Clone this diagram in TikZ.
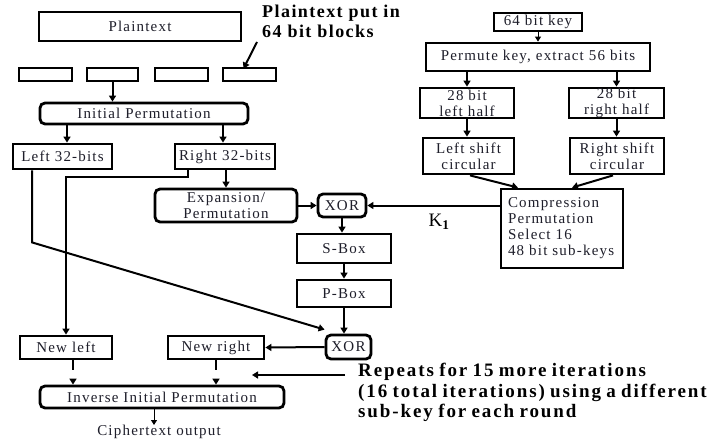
\documentclass[tikz,border=0pt]{standalone}
\usepackage{fontspec}
\setmainfont{Liberation Serif}
\newfontfamily\boxfont[LetterSpace=8,WordSpace=1.4]{Liberation Serif}
\newfontfamily\annfont[LetterSpace=8]{Liberation Serif}
\newfontfamily\repfont[LetterSpace=10,WordSpace=0.8]{Liberation Serif}
\usetikzlibrary{arrows.meta}
\definecolor{txt}{HTML}{1E1E2A}
\tikzset{
  box/.style={draw, line width=2.8pt, inner sep=0pt, text=txt, align=center,
    font=\boxfont\fontsize{15}{16}\selectfont},
  rbox/.style={box, rounded corners=5pt},
  arr/.style={line width=2pt, -{Triangle[length=6pt,width=7pt]}},
  thinarr/.style={line width=0.9pt, -{Triangle[length=5pt,width=6pt]}},
  stubarr/.style={line width=2pt, dash pattern=on 10pt off 9pt, -{Triangle[length=6pt,width=7pt]}},
  ann/.style={text=black, align=left, inner sep=0pt,
    font=\annfont\bfseries\fontsize{18}{19.5}\selectfont},
  repann/.style={text=black, align=left, inner sep=0pt,
    font=\repfont\bfseries\fontsize{19}{20.5}\selectfont},
  plain/.style={text=txt, inner sep=0pt, font=\boxfont\fontsize{15}{16}\selectfont}
}
\begin{document}
\begin{tikzpicture}[x=1pt,y=-1pt]
\fill[white] (0,0) rectangle (708,441);
\useasboundingbox (0,0) rectangle (708,441);
% left side
\node[box, minimum width=202pt, minimum height=29pt] (pt) at (140,26.5) {Plaintext};
\node[ann, anchor=north west] (annot) at (262,5) {Plaintext put in\\64 bit blocks};
\node[box, minimum width=53pt, minimum height=13pt] (b1) at (45.5,74.5) {};
\node[box, minimum width=51pt, minimum height=13pt] (b2) at (112.5,74.5) {};
\node[box, minimum width=53pt, minimum height=13pt] (b3) at (181.5,74.5) {};
\node[box, minimum width=53pt, minimum height=13pt] (b4) at (249.5,74.5) {};
\node[rbox, minimum width=208pt, minimum height=21pt] (ip) at (144,113.5) {Initial Permutation};
\node[box, minimum width=99pt, minimum height=25pt] (l32) at (62.5,156.5) {Left 32-bits};
\node[box, minimum width=100pt, minimum height=25pt] (r32) at (225,156.5) {Right 32-bits};
\node[rbox, minimum width=142pt, minimum height=33pt] (exp) at (226,205.5) {Expansion/\\Permutation};
\node[rbox, minimum width=48pt, minimum height=23pt] (x1) at (342,205.5) {XOR};
\node[box, minimum width=94pt, minimum height=29pt] (sb) at (344,248.5) {S-Box};
\node[box, minimum width=94pt, minimum height=27pt] (pb) at (344,293.5) {P-Box};
\node[rbox, minimum width=45pt, minimum height=24pt] (x2) at (348.5,347) {XOR};
\node[box, minimum width=92pt, minimum height=23pt] (nl) at (66,347.5) {New left};
\node[box, minimum width=96pt, minimum height=23pt] (nr) at (216,347.5) {New right};
\node[rbox, minimum width=244pt, minimum height=22pt] (iip) at (162,397) {Inverse Initial Permutation};
\node[plain] (ct) at (159,432) {Ciphertext output};
% key schedule
\node[box, minimum width=88pt, minimum height=18pt] (kb) at (538,22) {64 bit key};
\node[box, minimum width=224pt, minimum height=28pt] (pk) at (538,57) {Permute key, extract 56 bits};
\node[box, minimum width=94pt, minimum height=30pt] (lh) at (467,103) {28 bit\\left half};
\node[box, minimum width=95pt, minimum height=30pt] (rh) at (616.5,103) {28 bit\\right half};
\node[box, minimum width=91pt, minimum height=36pt] (ls) at (468.5,156) {Left shift\\circular};
\node[box, minimum width=94pt, minimum height=36pt] (rs) at (617,156) {Right shift\\circular};
\node[box, minimum width=122pt, minimum height=79pt, text width=108pt, inner xsep=7pt, align=left] (cp) at (562,228.5) {Compression\\Permutation\\Select 16\\48 bit sub-keys};
\node[text=black, inner sep=0pt, font=\fontsize{19}{20}\selectfont] (k1) at (439,222) {K$_{\mathbf 1}$};
\node[repann, anchor=north west] (rep) at (358,363) {Repeats for 15 more iterations\\(16 total iterations) using a different\\sub-key for each round};
% connectors left
\coordinate (annS) at (257,42);
\draw[arr] (annS) -- ([xshift=-6pt,yshift=-2pt]b4.north);
\draw[arr] (b2.south) -- (b2.south |- ip.north);
\draw[arr] ([xshift=4.5pt]l32.north |- ip.south) -- ([xshift=4.5pt]l32.north);
\draw[arr] ([xshift=-2pt]r32.north |- ip.south) -- ([xshift=-2pt]r32.north);
\draw[arr] (exp.north |- r32.south) -- (exp.north);
\draw[arr] ([xshift=-37pt]r32.south) -- ++(0,7) -| (nl.north);
\draw[arr] ([xshift=-30.5pt]l32.south) -- ++(0,72) -- ([yshift=4pt]x2.north west);
\draw[arr] (exp.east) -- (x1.west);
\draw[arr] (cp.west |- x1.east) -- (x1.east);
\draw[arr] (x1.south) -- (x1.south |- sb.north);
\draw[arr] (sb.south) -- (sb.south |- pb.north);
\draw[arr] (pb.south) -- (pb.south |- x2.north);
\draw[arr] (x2.west) -- (nr.east);
\draw[stubarr] ([xshift=7pt]nl.south) -- ([xshift=7pt]nl.south |- iip.north);
\draw[stubarr] (nr.south) -- (nr.south |- iip.north);
\draw[thinarr] ([xshift=-8pt]iip.south) -- ([xshift=-8pt]iip.south |- ct.north);
\coordinate (repS) at (345,375);
\coordinate (repE) at (252,375);
\draw[arr] (repS) -- (repE);
% connectors key
\draw[thinarr] (kb.south) -- (pk.north);
\draw[arr] (lh.north |- pk.south) -- (lh.north);
\draw[arr] (rh.north |- pk.south) -- (rh.north);
\draw[arr] (lh.south) -- (lh.south |- ls.north);
\draw[arr] (rh.south) -- (rh.south |- rs.north);
\draw[arr] ([xshift=1.5pt]ls.south) -- ([xshift=-44pt]cp.north);
\draw[arr] ([xshift=-4pt]rs.south) -- ([xshift=10pt]cp.north);
\end{tikzpicture}
\end{document}
